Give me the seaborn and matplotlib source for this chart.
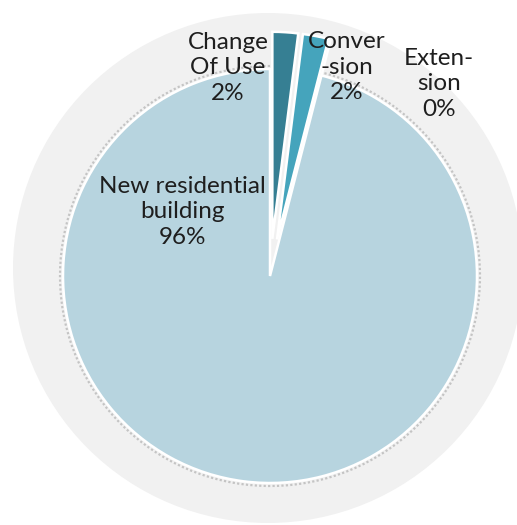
import numpy as np
import matplotlib
matplotlib.use("Agg")
import matplotlib.pyplot as plt
from matplotlib.patches import Circle, Arc
import seaborn as sns

# Share of applications by development type
categories = ["Change\nOf Use", "Conver\n-sion", "Exten-\nsion", "New residential\nbuilding"]
shares = [2, 2, 0, 96]
pct_labels = ["2%", "2%", "0%", "96%"]
colors = ["#367F93", "#45A4BC", "#7FC3D6", "#B7D4DF"]
explode_frac = [0.18, 0.18, 0.18, 0.0]

sns.set_theme(style="white")
plt.rcParams["font.family"] = ["Lato", "DejaVu Sans"]

W, H = 517, 525
fig = plt.figure(figsize=(W / 100, H / 100), dpi=100)
ax = fig.add_axes([0, 0, 1, 1])
ax.set_aspect("equal")

# light grey backdrop disc
ax.add_patch(Circle((268, H - 268), 255, facecolor="#F1F1F1", edgecolor="none", zorder=0))

cx, cy, r = 270, H - 276, 207
wedges, _ = ax.pie(
    shares, colors=colors, explode=[e * r for e in explode_frac],
    startangle=90, counterclock=False,
    center=(cx, cy), radius=r, frame=True,
    wedgeprops=dict(edgecolor="white", linewidth=1.8),
)
for w in wedges:
    w.set_zorder(2)
ax.set_xlim(0, W)
ax.set_ylim(0, H)
ax.axis("off")

# soft grey rim along the large slice
big = wedges[-1]
ax.add_patch(Arc((cx, cy), 2 * (r + 3), 2 * (r + 3), theta1=big.theta1, theta2=big.theta2,
                 color="#C4C4C4", lw=1.6, linestyle=(0, (1, 1)), zorder=1))

# data labels
label_pos = [(228, 68), (347, 67), (439, 84), (182, 212)]
for cat, pct, (x, y) in zip(categories, pct_labels, label_pos):
    ax.text(x, H - y, f"{cat}\n{pct}", ha="center", va="center", multialignment="center",
            fontsize=17.5, color="#1E1E1E", linespacing=1.28, zorder=5)

fig.savefig("out.png", dpi=100, facecolor="white")
